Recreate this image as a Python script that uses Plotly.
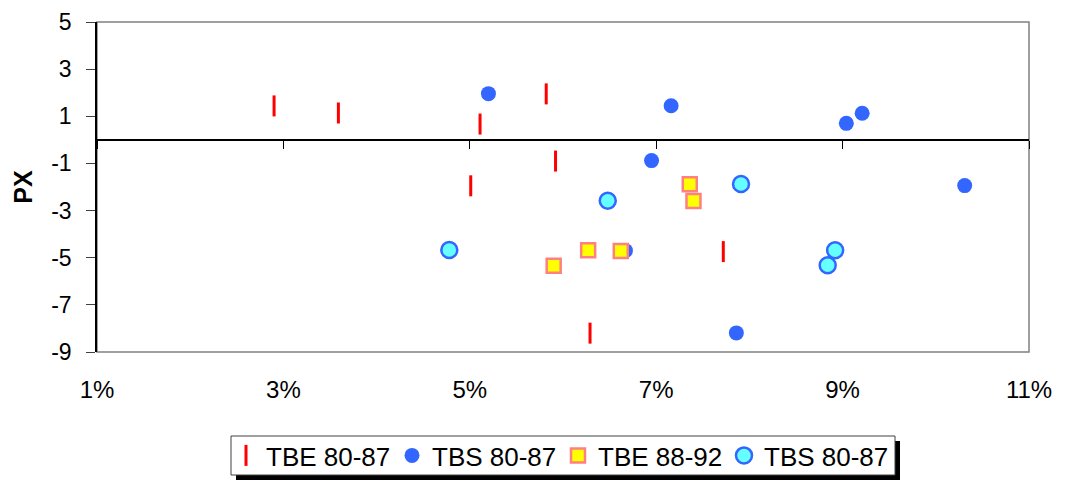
import plotly.graph_objects as go

# ---- data (x as fraction, y = PX) ----
tbe8087_x = [0.0290, 0.0359, 0.0511, 0.0582, 0.0592, 0.0501, 0.0772, 0.0629]
tbe8087_y = [1.44, 1.14, 0.67, 1.95, -0.90, -1.95, -4.74, -8.20]

tbs8087_x = [0.0520, 0.0716, 0.0904, 0.0921, 0.0695, 0.1031, 0.0667, 0.0786]
tbs8087_y = [1.96, 1.45, 0.70, 1.13, -0.88, -1.94, -4.70, -8.19]

tbe8892_x = [0.0736, 0.0740, 0.0590, 0.0627, 0.0662]
tbe8892_y = [-1.88, -2.59, -5.34, -4.68, -4.71]

tbs8087b_x = [0.0478, 0.0648, 0.0791, 0.0892, 0.0884]
tbs8087b_y = [-4.67, -2.58, -1.87, -4.68, -5.32]

series_names = ["TBE 80-87", "TBS 80-87", "TBE 88-92", "TBS 80-87"]
x_ticks = [0.01, 0.03, 0.05, 0.07, 0.09, 0.11]
x_tick_labels = ["1%", "3%", "5%", "7%", "9%", "11%"]
y_ticks = [5, 3, 1, -1, -3, -5, -7, -9]
y_tick_labels = ["5", "3", "1", "-1", "-3", "-5", "-7", "-9"]

fig = go.Figure()
fig.add_trace(go.Scatter(x=tbe8087_x, y=tbe8087_y, mode="markers", name=series_names[0],
                         marker=dict(symbol="line-ns", size=15, line=dict(color="#FF0000", width=3))))
fig.add_trace(go.Scatter(x=tbs8087_x, y=tbs8087_y, mode="markers", name=series_names[1],
                         marker=dict(symbol="circle", size=15, color="#3366FF", line=dict(width=0))))
fig.add_trace(go.Scatter(x=tbe8892_x, y=tbe8892_y, mode="markers", name=series_names[2],
                         marker=dict(symbol="square", size=14, color="#FFFF00", line=dict(color="#FF8080", width=2.5))))
fig.add_trace(go.Scatter(x=tbs8087b_x, y=tbs8087b_y, mode="markers", name=series_names[3],
                         marker=dict(symbol="circle", size=16, color="#66FFFF", line=dict(color="#3366FF", width=2.5))))
# helper trace for the axis drawn through y = 0
fig.add_trace(go.Scatter(x=[None], y=[None], xaxis="x2", yaxis="y", showlegend=False, hoverinfo="skip"))

font = "Liberation Sans, Arial, sans-serif"
W_PLOT, H_PLOT, L, T = 932, 330, 97, 22


def px_x(p):
    return (p - L) / W_PLOT


def px_y(p):
    return (T + H_PLOT - p) / H_PLOT


fig.update_layout(
    width=1068, height=480,
    margin=dict(l=97, r=39, t=22, b=128, autoexpand=False),
    paper_bgcolor="white", plot_bgcolor="white",
    font=dict(family=font, color="black"),
    xaxis=dict(range=[0.01, 0.11], tickvals=x_ticks, ticktext=x_tick_labels,
               showgrid=False, zeroline=False, showline=False, ticks="",
               ticklabelstandoff=21, tickfont=dict(size=24)),
    xaxis2=dict(range=[0.01, 0.11], tickvals=x_ticks, overlaying="x", anchor="free",
                position=9 / 14, side="bottom", showline=True, linecolor="black", linewidth=1.5,
                ticks="outside", ticklen=8, tickcolor="black", tickwidth=1,
                showticklabels=False, showgrid=False, zeroline=False),
    yaxis=dict(range=[-9, 5], tickvals=y_ticks, ticktext=y_tick_labels,
               showgrid=False, zeroline=False,
               showline=True, linecolor="black", linewidth=1.5,
               ticks="outside", ticklen=9, tickcolor="#404040",
               ticklabelstandoff=10, tickfont=dict(size=23),
               title=dict(text="<b>PX</b>", font=dict(size=25), standoff=11)),
    legend=dict(orientation="h", x=px_x(226), xanchor="left", y=px_y(432), yanchor="top",
                bgcolor="rgba(0,0,0,0)", borderwidth=0,
                font=dict(size=26), entrywidth=121, entrywidthmode="pixels",
                tracegroupgap=0, itemsizing="trace"),
    shapes=[
        dict(type="rect", xref="paper", yref="paper", x0=0, x1=1, y0=0, y1=1,
             line=dict(color="#808080", width=1.5), layer="below"),
        # legend shadow and box
        dict(type="rect", xref="paper", yref="paper",
             x0=px_x(236), x1=px_x(900), y0=px_y(480), y1=px_y(441),
             fillcolor="black", line=dict(width=0), layer="above"),
        dict(type="rect", xref="paper", yref="paper",
             x0=px_x(231), x1=px_x(895), y0=px_y(475), y1=px_y(436),
             fillcolor="white", line=dict(color="#404040", width=1), layer="above"),
    ],
    showlegend=True,
)

fig.write_html("out.html")
